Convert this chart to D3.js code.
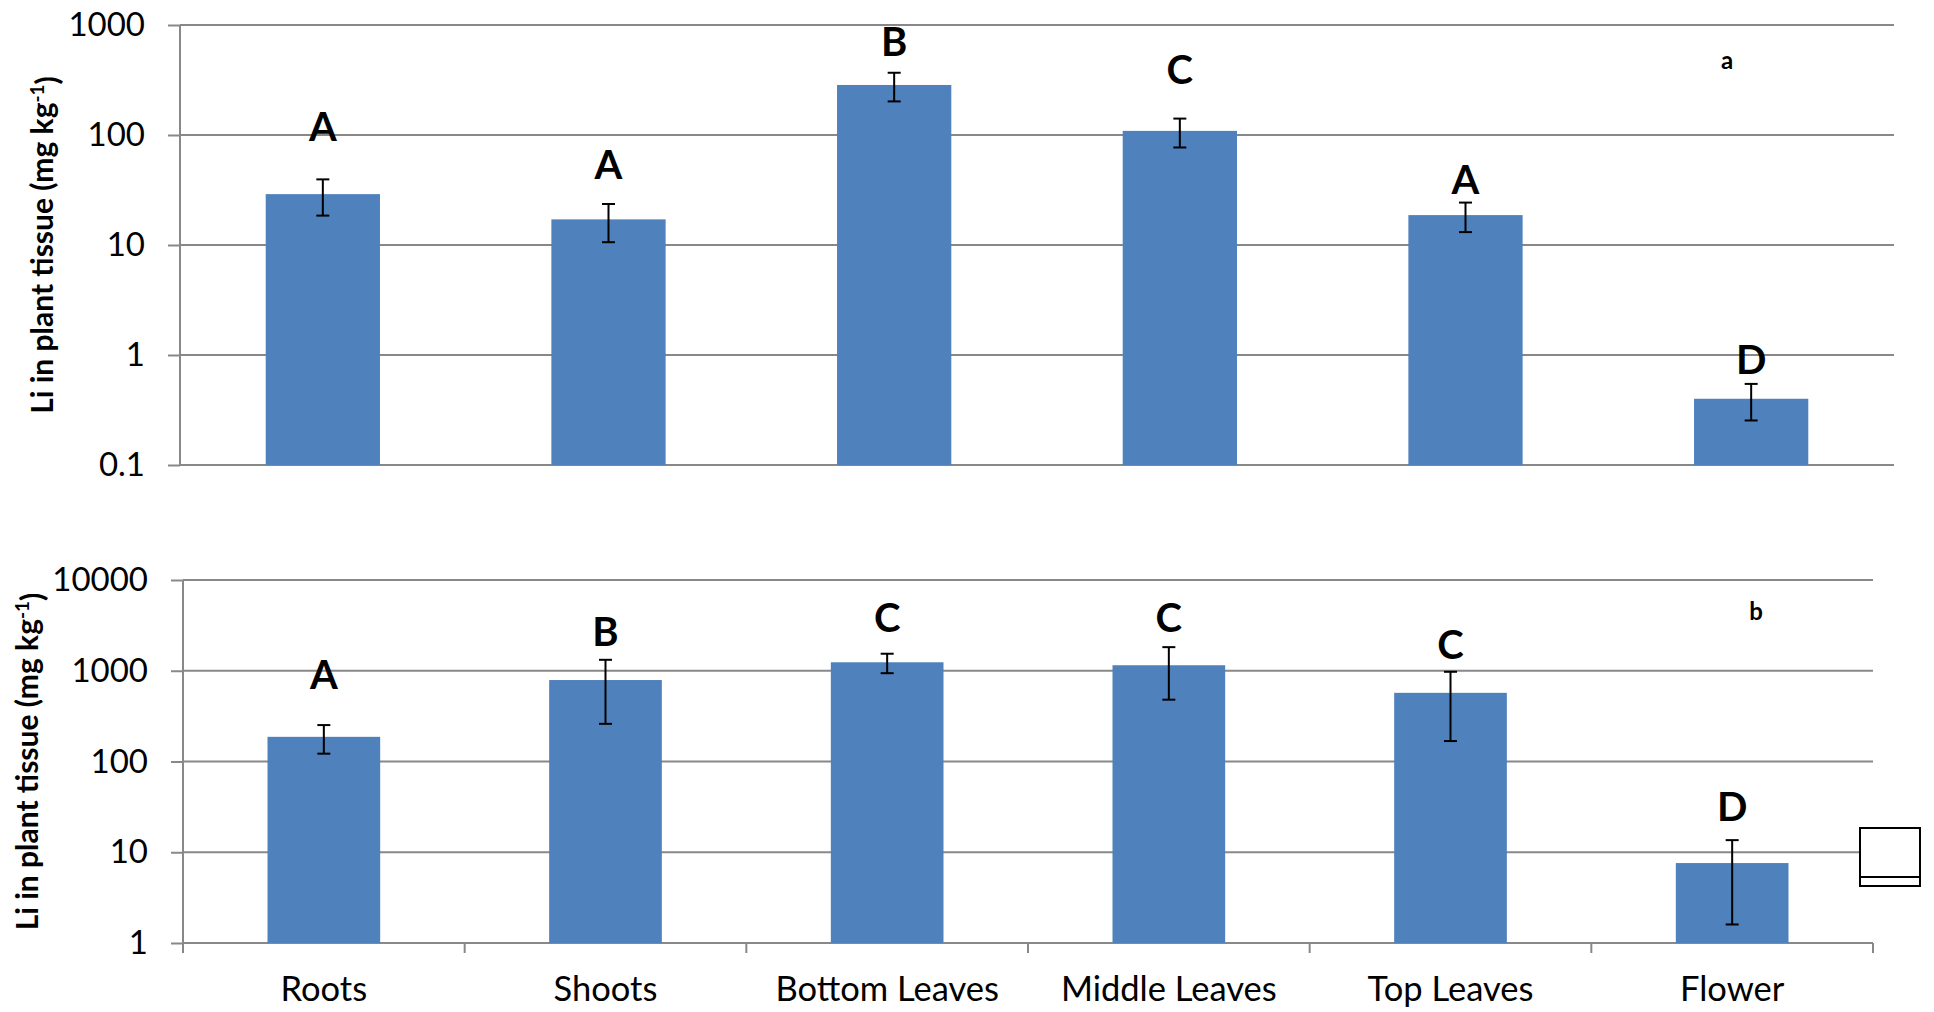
<!DOCTYPE html>
<html>
<head>
<meta charset="utf-8">
<script src="https://cdn.jsdelivr.net/npm/d3@7"></script>
<style>
  html, body { margin: 0; padding: 0; background: #fff; }
  svg { display: block; font-family: Lato, "Open Sans", sans-serif; }
</style>
</head>
<body>
<svg id="chart" width="1934" height="1012"></svg>
<script>
// Plant tissue categories (shared by both panels)
const categories = ["Roots", "Shoots", "Bottom Leaves", "Middle Leaves", "Top Leaves", "Flower"];

// Panel a: Li concentration (mg/kg), standard error, significance letters
const liA      = [29, 17.1, 285, 109, 18.7, 0.40];
const errA     = [10.5, 6.5, 83, 32, 5.6, 0.146];
const lettersA = ["A", "A", "B", "C", "A", "D"];
const letterAtA = [118, 53, 700, 390, 39, 0.90];   // value level where each letter sits
const ticksA   = [0.1, 1, 10, 100, 1000];
const tickLabelsA = ["0.1", "1", "10", "100", "1000"];

// Panel b
const liB      = [187, 790, 1240, 1150, 571, 7.6];
const errB     = [65, 530, 300, 670, 403, 6.0];
const lettersB = ["A", "B", "C", "C", "C", "D"];
const letterAtB = [897, 2670, 3810, 3810, 1920, 31.4];
const ticksB   = [1, 10, 100, 1000, 10000];
const tickLabelsB = ["1", "10", "100", "1000", "10000"];

const BAR = "#4F81BD";
const GRID = "#888888";

const svg = d3.select("#chart");
svg.append("rect").attr("width", 1934).attr("height", 1012).attr("fill", "#fff");

const panels = [
  { values: liA, errors: errA, letters: lettersA, letterAt: letterAtA,
    ticks: ticksA, tickLabels: tickLabelsA,
    x0: 180, x1: 1894, y0: 25, y1: 465, titleX: 53,
    tag: "a", tagX: 1727, tagY: 69, categoryAxis: false },
  { values: liB, errors: errB, letters: lettersB, letterAt: letterAtB,
    ticks: ticksB, tickLabels: tickLabelsB,
    x0: 183, x1: 1873, y0: 580, y1: 943, titleX: 38,
    tag: "b", tagX: 1756, tagY: 620, categoryAxis: true }
];

panels.forEach(p => {
  const g = svg.append("g");

  const x = d3.scaleBand()
    .domain(categories)
    .range([p.x0, p.x1])
    .paddingInner(0.6)
    .paddingOuter(0.3);

  const y = d3.scaleLog()
    .domain([p.ticks[0], p.ticks[p.ticks.length - 1]])
    .range([p.y1, p.y0]);

  // horizontal gridlines
  g.append("g").selectAll("line").data(p.ticks).join("line")
    .attr("x1", p.x0).attr("x2", p.x1)
    .attr("y1", d => y(d)).attr("y2", d => y(d))
    .attr("stroke", GRID).attr("stroke-width", 2);

  // value axis with tick labels
  const labelOf = new Map(p.ticks.map((t, i) => [t, p.tickLabels[i]]));
  const yAxis = g.append("g")
    .attr("transform", `translate(${p.x0},0)`)
    .call(d3.axisLeft(y).tickValues(p.ticks).tickSize(12).tickPadding(23)
      .tickFormat(d => labelOf.get(d)));
  yAxis.select(".domain").remove();
  yAxis.selectAll(".tick line").attr("stroke", GRID).attr("stroke-width", 2);
  yAxis.selectAll(".tick text")
    .attr("font-size", 33).attr("fill", "#000")
    .attr("font-family", "Lato, 'Open Sans', sans-serif");

  // vertical axis line
  g.append("line")
    .attr("x1", p.x0).attr("x2", p.x0)
    .attr("y1", p.y0).attr("y2", p.categoryAxis ? p.y1 + 10 : p.y1)
    .attr("stroke", GRID).attr("stroke-width", 2);

  // bars
  g.append("g").selectAll("rect").data(p.values).join("rect")
    .attr("x", (d, i) => x(categories[i]))
    .attr("width", x.bandwidth())
    .attr("y", d => y(d))
    .attr("height", d => p.y1 - y(d))
    .attr("fill", BAR);

  // error bars
  const eg = g.append("g").attr("stroke", "#000").attr("stroke-width", 2);
  p.values.forEach((v, i) => {
    const cx = x(categories[i]) + x.bandwidth() / 2;
    const hi = y(v + p.errors[i]);
    const lo = y(v - p.errors[i]);
    eg.append("line").attr("x1", cx).attr("x2", cx).attr("y1", hi).attr("y2", lo);
    eg.append("line").attr("x1", cx - 6.5).attr("x2", cx + 6.5).attr("y1", hi).attr("y2", hi);
    eg.append("line").attr("x1", cx - 6.5).attr("x2", cx + 6.5).attr("y1", lo).attr("y2", lo);
  });

  // significance letters
  g.append("g").selectAll("text").data(p.letters).join("text")
    .attr("x", (d, i) => x(categories[i]) + x.bandwidth() / 2)
    .attr("y", (d, i) => y(p.letterAt[i]) + 14)
    .attr("text-anchor", "middle")
    .attr("font-size", 40).attr("font-weight", 700)
    .text(d => d);

  // category axis (lower panel only)
  if (p.categoryAxis) {
    const step = x.step();
    const bounds = d3.range(categories.length + 1).map(k => p.x0 + k * step);
    g.append("g").selectAll("line").data(bounds).join("line")
      .attr("x1", d => d).attr("x2", d => d)
      .attr("y1", p.y1).attr("y2", p.y1 + 10)
      .attr("stroke", GRID).attr("stroke-width", 2);
    g.append("g").selectAll("text").data(categories).join("text")
      .attr("x", d => x(d) + x.bandwidth() / 2)
      .attr("y", 1001)
      .attr("text-anchor", "middle")
      .attr("font-size", 34.5)
      .text(d => d);
  }

  // panel tag
  g.append("text")
    .attr("x", p.tagX).attr("y", p.tagY)
    .attr("text-anchor", "middle")
    .attr("font-size", 24).attr("font-weight", 700)
    .text(p.tag);

  // y-axis title
  const cy = (p.y0 + p.y1) / 2;
  const t = g.append("text")
    .attr("transform", `translate(${p.titleX},${cy}) rotate(-90)`)
    .attr("text-anchor", "middle")
    .attr("font-size", 30).attr("font-weight", 700);
  t.append("tspan").text("Li in plant tissue (mg kg");
  t.append("tspan").attr("dy", "-0.45em").attr("font-size", 19).text("-1");
  t.append("tspan").attr("dy", "0.45em").text(")");
});

// small key box at the right of the lower panel
const key = svg.append("g").attr("stroke", "#000").attr("stroke-width", 2);
key.append("rect").attr("x", 1860).attr("y", 828).attr("width", 60).attr("height", 58).attr("fill", "#fff");
key.append("line").attr("x1", 1860).attr("x2", 1920).attr("y1", 877).attr("y2", 877);
</script>
</body>
</html>
